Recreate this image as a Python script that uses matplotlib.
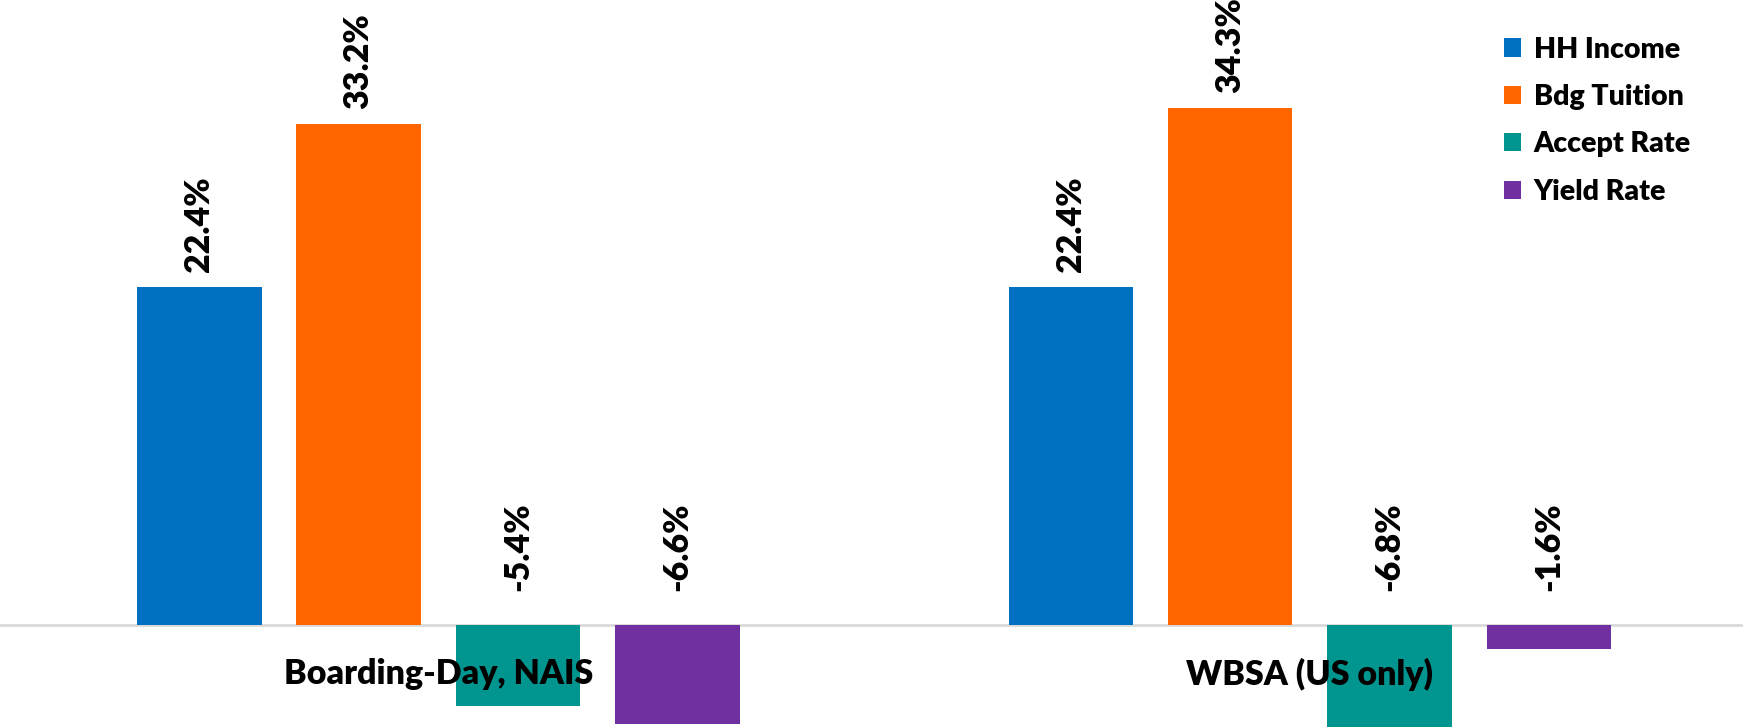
import matplotlib.pyplot as plt
import numpy as np

plt.rcParams['font.family'] = ['Lato', 'DejaVu Sans']
plt.rcParams['font.weight'] = 'heavy'

# data
groups = ["Boarding-Day, NAIS", "WBSA (US only)"]
series = ["HH Income", "Bdg Tuition", "Accept Rate", "Yield Rate"]
hh_income = [22.4, 22.4]
bdg_tuition = [33.2, 34.3]
accept_rate = [-5.4, -6.8]
yield_rate = [-6.6, -1.6]
colors = ["#0070C0", "#FF6600", "#00968F", "#7030A0"]

values = [hh_income, bdg_tuition, accept_rate, yield_rate]

fig = plt.figure(figsize=(17.43, 7.28), dpi=100)
ax = fig.add_axes([0, 0, 1, 1])

x = np.arange(len(groups))
w = 1 / 7
pitch = w * 1.28
offsets = (np.arange(4) - 1.5) * pitch

for i, (name, vals, c) in enumerate(zip(series, values, colors)):
    xs = x + offsets[i]
    ax.bar(xs, vals, width=w, color=c, label=name, zorder=2)
    for xi, v in zip(xs, vals):
        # positive: above bar end, negative: above the axis
        y0 = v if v > 0 else 0
        dy = 15 if v > 0 else 34
        ax.annotate(f"{v:.1f}%", (xi, y0), xytext=(0, dy * 0.72),
                    textcoords="offset points", rotation=90,
                    ha="center", va="bottom", fontsize=24.5,
                    fontweight="heavy", zorder=4)

ax.axhline(0, color="#d9d9d9", lw=2, zorder=1)

for xi, g in zip(x, groups):
    ax.text(xi, -3.3, g, ha="center", va="center", fontsize=24.5,
            fontweight="heavy", zorder=5)

ax.set_xlim(-0.503, 1.497)
ax.set_ylim(-6.85, 41.45)
ax.axis("off")

leg = ax.legend(loc="upper left", bbox_to_anchor=(0.848, 0.985), frameon=False,
                fontsize=20.5, handlelength=0.6, handleheight=0.6,
                handletextpad=0.45, labelspacing=0.75)

fig.savefig("out.png", dpi=100)
